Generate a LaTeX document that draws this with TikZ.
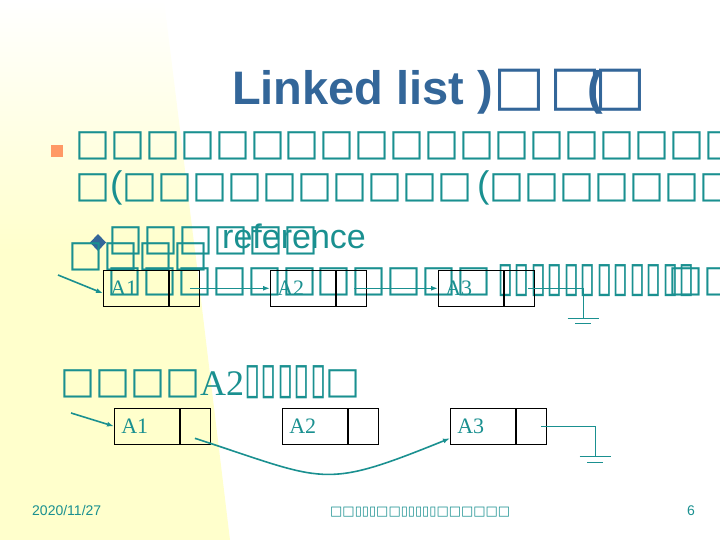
\documentclass[tikz,border=0pt]{standalone}
\usepackage{fontspec}
\setmainfont{Liberation Sans}
\newfontfamily\tofu{DejaVu Sans}
\newfontfamily\timesf{Liberation Serif}
\usetikzlibrary{arrows.meta,positioning}
\definecolor{tealtext}{HTML}{1A9090}
\definecolor{titleblue}{HTML}{336699}
\definecolor{lemon}{HTML}{FFFFCC}
\definecolor{bulletorange}{HTML}{FF9966}

\begin{document}
\begin{tikzpicture}[x=1pt, y=-1pt, >={Latex[length=7pt,width=5pt]},
  txt/.style={anchor=base west, inner sep=0pt, text=tealtext},
  boxes/.style={txt, font={\tofu\bfseries\fontsize{37}{37}\selectfont}},
  narrow/.style={txt, font={\tofu\fontsize{30}{30}\selectfont}},
  cell/.style={draw, line width=0.6pt, minimum height=36pt, inner xsep=7pt,
    inner ysep=0pt, text width=51pt, text=tealtext,
    font={\timesf\fontsize{22}{22}\selectfont}},
  ptr/.style={draw, line width=0.6pt, minimum height=36pt, minimum width=30pt,
    inner sep=0pt},
  link/.style={->, tealtext, line width=1.6pt},
  wire/.style={tealtext, line width=0.8pt},
  foot/.style={txt, font={\fontsize{14}{14}\selectfont}}]
  \useasboundingbox (0,0) rectangle (720,540);
  % background blend on the left
  \shade[top color=white, bottom color=lemon] (0,0) -- (164,0) -- (195,251) -- (0,251) -- cycle;
  \fill[lemon] (0,250) -- (195,250) -- (230,540) -- (0,540) -- cycle;

  % title
  \node[txt, text=titleblue, font={\bfseries\fontsize{47}{47}\selectfont}] (title) at (232,105)
    {Linked list ){\tofu\fontsize{55}{55}\selectfont □\kern4pt□}\kern-14pt(\kern-8pt{\tofu\fontsize{55}{55}\selectfont □}};

  % bullet lines
  \fill[bulletorange] (51,145) rectangle (63,157);
  \node[boxes] (line1) at (75,156) {□□□□□□□□□□□□□□□□□□□};
  \node[boxes] (line2) at (75,198) {□{\normalfont(}□□□□□□□□□□\kern5pt{\normalfont(}□□□□□□□};
  \fill[titleblue] (98,234) -- (106,242.5) -- (98,251) -- (90,242.5) -- cycle;
  \node[boxes] (line3) at (108,250) {□□□□□□};
  \node[txt, font={\fontsize{34}{34}\selectfont}] (ref) at (222,248) {reference};
  \node[boxes] (line4) at (68,266) {□□□□};
  \node[boxes] (line5) at (107,291) {□□□□□□□□□□□};
  \node[narrow] (line5b) at (497,291) {\scalebox{1}[1.4]{▯▯▯▯▯▯▯▯▯▯▯▯}};
  \node[boxes] (line5c) at (668,291) {□□};

  % first list
  \node[cell, anchor=north west] (a1) at (103,270) {A1};
  \node[ptr, right=0pt of a1] (a1p) {};
  \node[cell, anchor=north west] (a2) at (270,270) {A2};
  \node[ptr, right=0pt of a2] (a2p) {};
  \node[cell, anchor=north west] (a3) at (438,270) {A3};
  \node[ptr, right=0pt of a3] (a3p) {};
  \coordinate (in1) at (58,275);
  \coordinate (g1) at (583,318);
  \draw[link] (in1) -- ([yshift=-5pt]a1.west);
  \draw[link] ([xshift=6pt]a1p.center) -- (a2.west);
  \draw[link] ([xshift=3pt]a2p.center) -- (a3.west);
  \draw[wire] ([xshift=9pt]a3p.center) -| (g1);
  \draw[wire] ([xshift=-15.5pt]g1) -- ([xshift=15.5pt]g1);
  \draw[wire] ([xshift=-8pt,yshift=-5pt]g1) -- ([xshift=8pt,yshift=-5pt]g1);

  % second heading
  \node[boxes] (line6) at (60,393) {□□□□};
  \node[txt, font={\timesf\fontsize{36}{36}\selectfont}] (lblA2) at (200,395) {A2};
  \node[narrow] (line6b) at (244,393) {\scalebox{1}[1.45]{▯▯▯▯▯}};
  \node[boxes] (line6c) at (325,393) {□};

  % second list, A2 skipped
  \node[cell, anchor=north west] (b1) at (114,408) {A1};
  \node[ptr, right=0pt of b1] (b1p) {};
  \node[cell, anchor=north west] (b2) at (282,408) {A2};
  \node[ptr, right=0pt of b2] (b2p) {};
  \node[cell, anchor=north west] (b3) at (450,408) {A3};
  \node[ptr, right=0pt of b3] (b3p) {};
  \coordinate (in2) at (71,413);
  \coordinate (g2) at (595,456);
  \draw[link] (in2) -- (b1.west);
  \draw[link] ([yshift=-12pt]b1p.center) to[out=-18, in=-158, looseness=1.4] ([yshift=-12pt]b3.west);
  \draw[wire] ([xshift=10pt]b3p.center) -| (g2);
  \draw[wire] ([xshift=-15.5pt]g2) -- ([xshift=15.5pt]g2);
  \draw[wire] ([xshift=-8pt,yshift=-6pt]g2) -- ([xshift=8pt,yshift=-6pt]g2);

  % footer
  \node[foot] (date) at (32,515) {2020/11/27};
  \node[txt, font={\tofu\fontsize{13}{13}\selectfont}] (center) at (330,515) {□□▯▯▯□□▯▯▯▯▯□□□□□□};
  \node[foot] (page) at (687,515) {6};
\end{tikzpicture}
\end{document}
